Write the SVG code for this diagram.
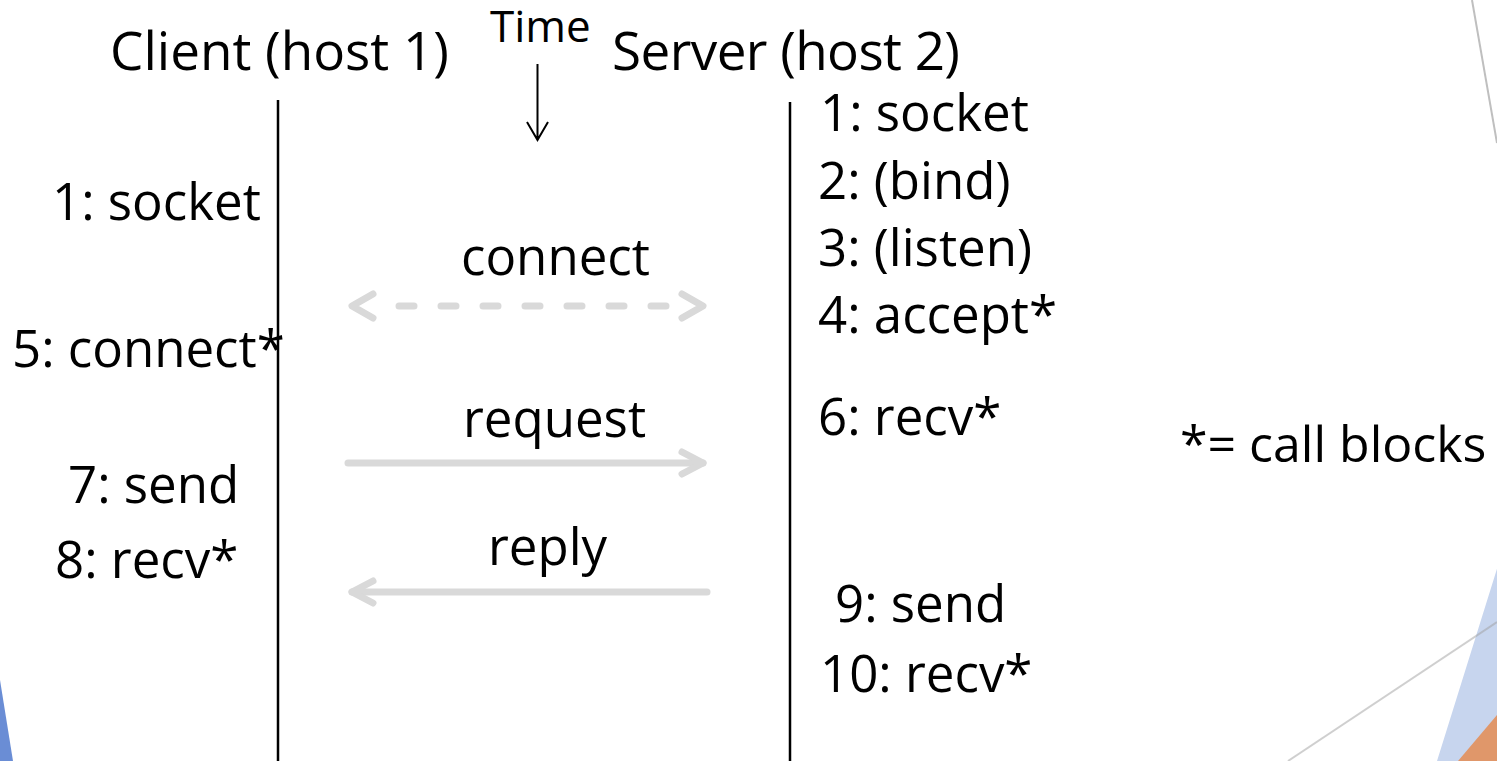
<svg xmlns="http://www.w3.org/2000/svg" width="1497" height="761" viewBox="0 0 1497 761">
  <style>
    text { font-family: "Open Sans", "DejaVu Sans", sans-serif; fill: #000; }
    .head { font-size: 53px; }
    .lbl { font-size: 51px; }
    .legend { font-size: 50px; }
    .small { font-size: 44px; }
    .life { stroke: #000; stroke-width: 2.5; fill: none; }
    .conn { stroke: #d9d9d9; stroke-width: 7; stroke-linecap: round; stroke-linejoin: round; fill: none; }
    .dash { stroke-dasharray: 15 27; }
    .time { stroke: #000; stroke-width: 2; fill: none; }
  </style>

  <!-- background decorations -->
  <g id="decor">
    <polygon points="0,680 13,761 0,761" fill="#6a8dd5"/>
    <polygon points="1501,556 1497,556 1497,761 1437,761" fill="#c7d5ee"/>
    <polygon points="1497,715 1497,761 1458,761" fill="#e0976a"/>
    <line x1="1497" y1="622" x2="1288" y2="761" stroke="#a0a0a0" stroke-opacity="0.5" stroke-width="2"/>
    <line x1="1472" y1="0" x2="1497" y2="143" stroke="#bfbfbf" stroke-width="2"/>
  </g>

  <!-- column headers -->
  <g id="client-header"><text class="head" x="110" y="70">Client (host 1)</text></g>
  <g id="server-header"><text class="head" x="612" y="70" textLength="348">Server (host 2)</text></g>
  <g id="time">
    <text class="small" x="490" y="42">Time</text>
    <path class="time" d="M537.5,64 V140 M527,122 L537.5,140 L548,122"/>
  </g>

  <!-- lifelines -->
  <g id="lifelines">
    <line class="life" x1="278" y1="100" x2="278" y2="761"/>
    <line class="life" x1="790" y1="102" x2="790" y2="761"/>
  </g>

  <!-- client calls -->
  <g id="client-calls">
    <text class="lbl" x="52" y="220">1: socket</text>
    <text class="lbl" x="12" y="367">5: connect*</text>
    <text class="lbl" x="68" y="503">7: send</text>
    <text class="lbl" x="55" y="578">8: recv*</text>
  </g>

  <!-- server calls -->
  <g id="server-calls">
    <text class="lbl" x="820" y="131">1: socket</text>
    <text class="lbl" x="818" y="199">2: (bind)</text>
    <text class="lbl" x="818" y="266">3: (listen)</text>
    <text class="lbl" x="818" y="333">4: accept*</text>
    <text class="lbl" x="818" y="435">6: recv*</text>
    <text class="lbl" x="835" y="622">9: send</text>
    <text class="lbl" x="820" y="692">10: recv*</text>
  </g>

  <!-- legend -->
  <g id="legend"><text class="legend" x="1180" y="462">*= call blocks</text></g>

  <!-- messages -->
  <g id="connectors">
    <g id="msg-connect">
      <text class="lbl" x="461" y="275">connect</text>
      <path class="conn dash" d="M399,306 H668"/>
      <path class="conn" d="M373,294 L352,306 L373,318"/>
      <path class="conn" d="M682,294 L703,306 L682,318"/>
    </g>
    <g id="msg-request">
      <text class="lbl" x="463" y="437">request</text>
      <path class="conn" d="M348,463 H703"/>
      <path class="conn" d="M682,452 L703,463 L682,474"/>
    </g>
    <g id="msg-reply">
      <text class="lbl" x="488" y="565">reply</text>
      <path class="conn" d="M707,592 H352"/>
      <path class="conn" d="M373,581 L352,592 L373,603"/>
    </g>
  </g>
</svg>
